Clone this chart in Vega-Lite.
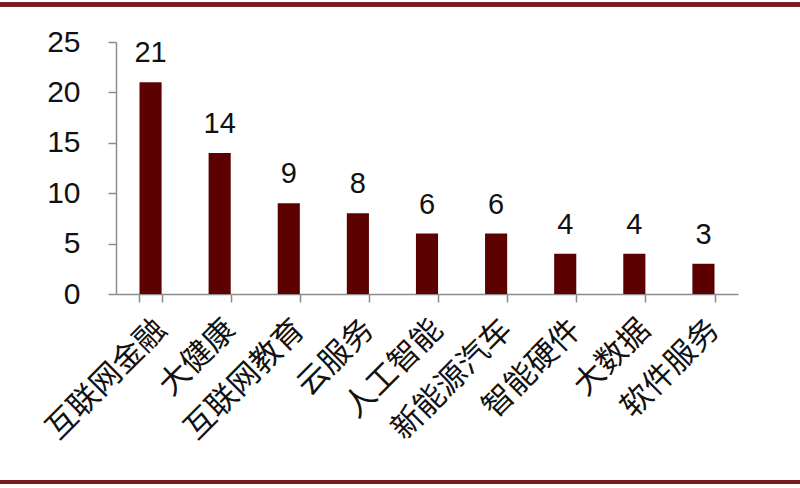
{
  "$schema": "https://vega.github.io/schema/vega-lite/v6.json",
  "width": 622,
  "height": 252,
  "autosize": "none",
  "padding": {"left": 116, "top": 42, "right": 62, "bottom": 194},
  "background": "white",
  "config": {"view": {"stroke": null}, "font": "Liberation Sans"},
  "data": {"values": [
    {"cat": "互联网金融", "n": 21},
    {"cat": "大健康", "n": 14},
    {"cat": "互联网教育", "n": 9},
    {"cat": "云服务", "n": 8},
    {"cat": "人工智能", "n": 6},
    {"cat": "新能源汽车", "n": 6},
    {"cat": "智能硬件", "n": 4},
    {"cat": "大数据", "n": 4},
    {"cat": "软件服务", "n": 3}
  ]},
  "encoding": {
    "y": {"field": "n", "type": "quantitative",
      "scale": {"domain": [0, 25]},
      "axis": {"title": null, "values": [0, 5, 10, 15, 20, 25], "grid": false, "labelFontSize": 30, "labelColor": "#111", "labelPadding": 28,
        "domainColor": "#8c8c8c", "domainWidth": 1.5, "tickColor": "#8c8c8c", "tickWidth": 1.5, "tickSize": 8}}
  },
  "layer": [
    {"layer": [
      {"mark": {"type": "bar", "color": "#5c0000"}},
      {"mark": {"type": "text", "baseline": "alphabetic", "dy": -20, "fontSize": 29, "color": "#111"},
        "encoding": {"text": {"field": "n"}}}
    ],
    "encoding": {"x": {"field": "cat", "type": "nominal", "sort": null,
        "scale": {"paddingInner": 0.68, "paddingOuter": 0.34},
        "axis": {"title": null, "labelAngle": -45, "labelFont": "Noto Sans CJK SC", "labelFontSize": 31, "labelColor": "#111",
          "domainColor": "#8c8c8c", "domainWidth": 1.5, "tickColor": "#8c8c8c", "tickWidth": 1.5, "tickSize": 8, "tickBand": "extent", "labelPadding": 12}}}},
    {"layer": [
      {"mark": {"type": "rect", "color": "#7a1a1a", "clip": false},
        "encoding": {"y": {"datum": 28.9}, "y2": {"datum": 28.55}}},
      {"mark": {"type": "rect", "color": "#7a1a1a", "clip": false},
        "encoding": {"y": {"datum": -18.45}, "y2": {"datum": -18.8}}}
    ],
    "encoding": {
      "x": {"datum": -0.19, "type": "quantitative", "scale": {"domain": [0, 1]}, "axis": null},
      "x2": {"datum": 1.1}}}
  ],
  "resolve": {"scale": {"x": "independent"}}
}
